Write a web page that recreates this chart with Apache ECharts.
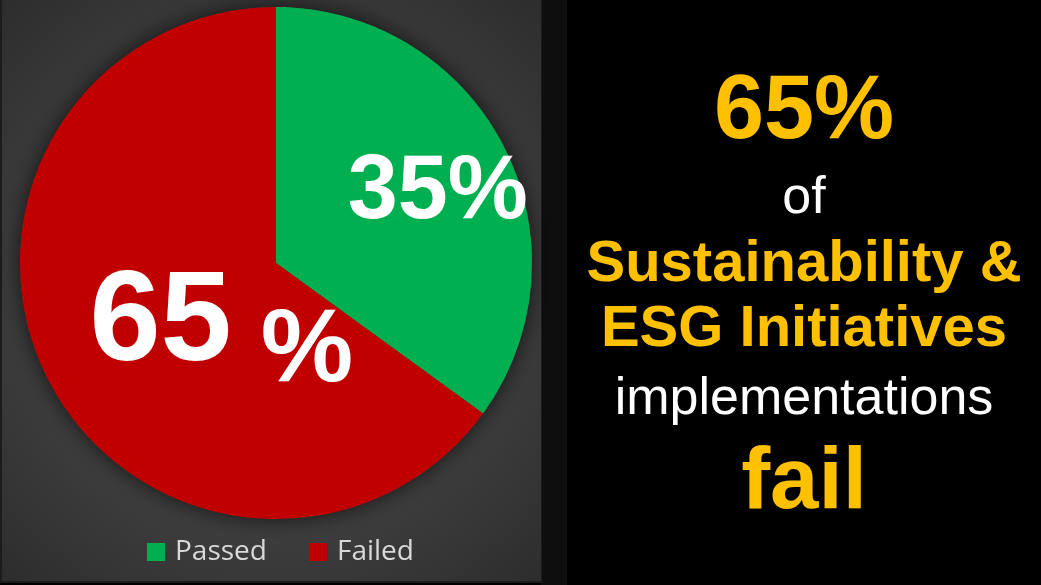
<!DOCTYPE html>
<html>
<head>
<meta charset="utf-8">
<script src="https://cdn.jsdelivr.net/npm/echarts@6/dist/echarts.min.js"></script>
<style>
html,body{margin:0;padding:0;background:#000;}
#chart{width:1041px;height:585px;}
</style>
</head>
<body>
<div id="chart"></div>
<script>
// ---- data ----
const categories = ['Passed', 'Failed'];
const values = [35, 65];
const sliceColors = ['#00B050', '#C00000'];
const sideLines = ['65%', 'of', 'Sustainability &', 'ESG Initiatives', 'implementations', 'fail'];

const chart = echarts.init(document.getElementById('chart'), null, {renderer: 'canvas'});

const sideStyles = [
  {fs: 90, bold: true, color: '#FFC000', y: 113},
  {fs: 52, bold: false, color: '#FFFFFF', y: 199},
  {fs: 58, bold: true, color: '#FFC000', y: 265},
  {fs: 58, bold: true, color: '#FFC000', y: 330},
  {fs: 52, bold: false, color: '#FFFFFF', y: 400},
  {fs: 87, bold: true, color: '#FFC000', y: 484}
];

const graphics = [
  {type: 'rect', z: -10, silent: true, shape: {x: 0, y: 0, width: 1041, height: 585}, style: {fill: '#000'}},
  {type: 'rect', z: -9, silent: true, shape: {x: 541, y: 0, width: 26, height: 585}, style: {fill: '#0e0e0e'}},
  {type: 'rect', z: -9, silent: true, shape: {x: 0, y: 0, width: 542, height: 583}, style: {fill: '#1c1c1c'}},
  {type: 'rect', z: -8, silent: true, shape: {x: 2, y: 0, width: 539, height: 581},
    style: {fill: {type: 'radial', x: 0.5, y: 0.5, r: 0.75,
      colorStops: [{offset: 0, color: '#575757'}, {offset: 1, color: '#2c2c2c'}]}}}
];
sideLines.forEach(function (t, i) {
  const s = sideStyles[i];
  graphics.push({
    type: 'text', silent: true, x: 804, y: s.y,
    style: {
      text: t, fill: s.color, align: 'center', verticalAlign: 'middle',
      font: (s.bold ? 'bold ' : '') + s.fs + 'px "Liberation Sans", Arial, sans-serif'
    }
  });
});

const total = values.reduce(function (a, b) { return a + b; }, 0);
const labelFont = '"Liberation Sans", Arial, sans-serif';

const option = {
  animation: false,
  backgroundColor: 'transparent',
  graphic: graphics,
  legend: {
    data: categories,
    left: 147,
    top: 538,
    padding: 0,
    itemWidth: 18,
    itemHeight: 18,
    itemGap: 42,
    icon: 'rect',
    textStyle: {color: '#d9d9d9', fontSize: 28, fontFamily: '"Open Sans", "Noto Sans", sans-serif', padding: [0, 0, 0, 5]},
    selectedMode: false
  },
  series: [{
    // backing disc that only carries the outer shadow
    type: 'pie',
    name: 'shadow',
    center: [276, 263],
    radius: 256,
    z: 1,
    silent: true,
    emphasis: {disabled: true},
    label: {show: false},
    labelLine: {show: false},
    itemStyle: {color: '#3a3a3a', shadowBlur: 22, shadowColor: 'rgba(0,0,0,0.7)'},
    data: [{name: '', value: total}]
  }, {
    type: 'pie',
    center: [276, 263],
    radius: 256,
    z: 2,
    startAngle: 90,
    clockwise: true,
    avoidLabelOverlap: false,
    silent: true,
    emphasis: {disabled: true},
    itemStyle: {borderWidth: 0},
    label: {
      show: true,
      position: 'inside',
      color: '#fff',
      fontFamily: labelFont,
      fontWeight: 'bold',
      formatter: function (p) {
        return p.dataIndex === 0 ? '{s|' + p.value + '%}' : '{a|' + p.value + '}{b| %}';
      },
      rich: {
        s: {fontSize: 90, lineHeight: 100, color: '#fff', fontWeight: 'bold', fontFamily: labelFont},
        a: {fontSize: 128, lineHeight: 130, color: '#fff', fontWeight: 'bold', fontFamily: labelFont},
        b: {fontSize: 104, lineHeight: 104, padding: [56, 0, 0, 0], color: '#fff', fontWeight: 'bold', fontFamily: labelFont}
      }
    },
    labelLine: {show: false},
    labelLayout: function (params) {
      return params.dataIndex === 0 ? {dx: 45, dy: -10} : {dx: 62, dy: 2};
    },
    data: categories.map(function (c, i) {
      return {name: c, value: values[i], itemStyle: {color: sliceColors[i]}};
    })
  }]
};
chart.setOption(option);
</script>
</body>
</html>
